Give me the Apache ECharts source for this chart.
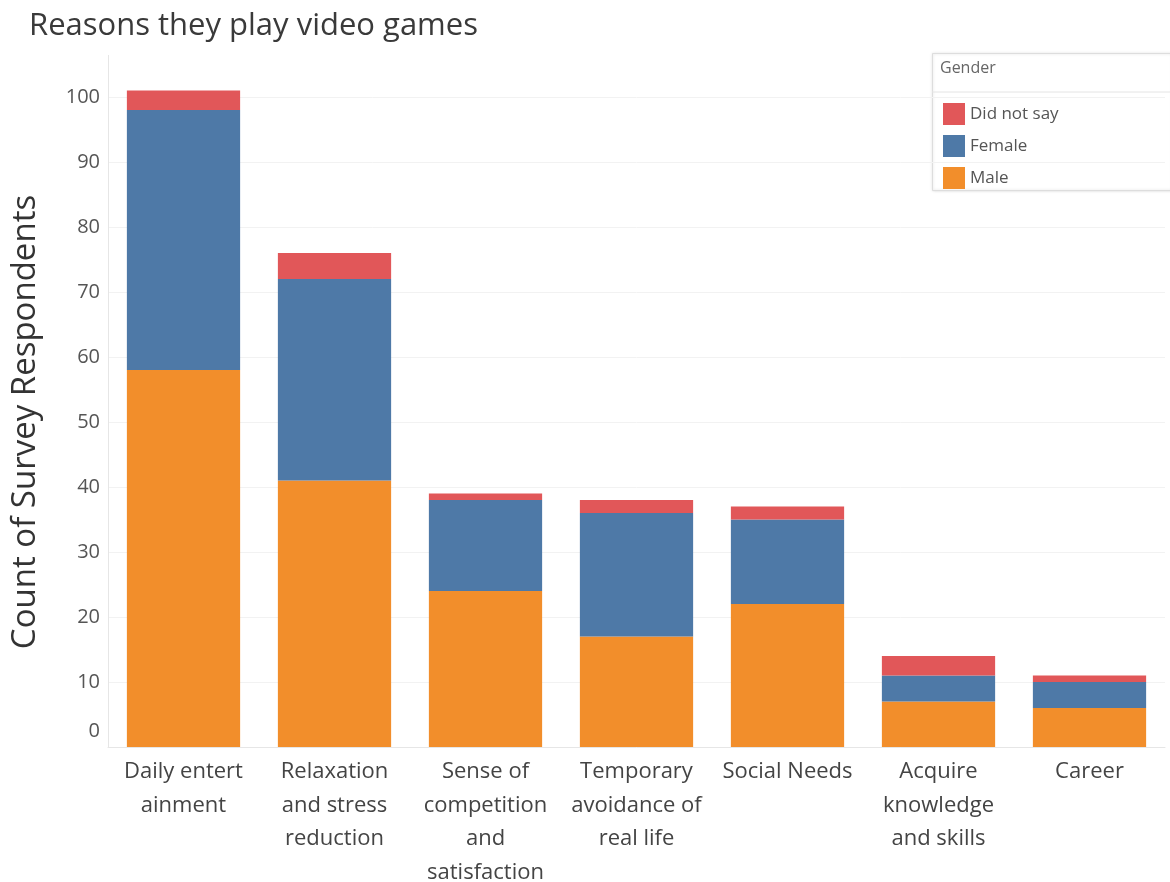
<!DOCTYPE html>
<html>
<head>
<meta charset="utf-8">
<script src="https://cdn.jsdelivr.net/npm/echarts@6/dist/echarts.min.js"></script>
<style>
  html, body { margin: 0; padding: 0; background: #fff; }
  #chart { width: 1170px; height: 882px; }
</style>
</head>
<body>
<div id="chart"></div>
<script>
// Reasons for playing, one stacked bar per reason
const categories = [
  'Daily entert\nainment',
  'Relaxation\nand stress\nreduction',
  'Sense of\ncompetition\nand\nsatisfaction',
  'Temporary\navoidance of\nreal life',
  'Social Needs',
  'Acquire\nknowledge\nand skills',
  'Career'
];
const male      = [58, 41, 24, 17, 22, 7, 6];
const female    = [40, 31, 14, 19, 13, 4, 4];
const didNotSay = [3, 4, 1, 2, 2, 3, 1];
const legendOrder = ['Did not say', 'Female', 'Male'];

const FONT = 'Open Sans';
const chart = echarts.init(document.getElementById('chart'), null, { renderer: 'canvas' });

const barSeries = (name, data, color) => ({
  name, type: 'bar', stack: 'total', data,
  barWidth: '75%',
  clip: false,
  itemStyle: { color },
  emphasis: { disabled: true }
});

chart.setOption({
  animation: false,
  textStyle: { fontFamily: FONT },
  title: {
    text: 'Reasons they play video games',
    left: 24, top: 6,
    textStyle: { fontFamily: FONT, fontSize: 31, fontWeight: 'normal', color: '#3a3a3a' }
  },
  legend: {
    data: legendOrder,
    orient: 'vertical',
    left: 938, top: 98,
    itemWidth: 22, itemHeight: 22, itemGap: 10,
    icon: 'rect',
    textStyle: { fontFamily: FONT, fontSize: 17, color: '#555' }
  },
  graphic: [
    {
      type: 'line', z: 1,
      shape: { x1: 108.5, y1: 55, x2: 108.5, y2: 97 },
      style: { stroke: '#e6e6e6', lineWidth: 1 }
    },
    {
      type: 'rect', left: 932, top: 53, z: -1,
      shape: { width: 240, height: 137 },
      style: { fill: '#fff', stroke: '#ddd', lineWidth: 1, shadowBlur: 3, shadowColor: 'rgba(0,0,0,0.15)' }
    },
    {
      type: 'line', z: 1,
      shape: { x1: 932, y1: 92, x2: 1170, y2: 92 },
      style: { stroke: '#e4e4e4', lineWidth: 1 }
    },
    {
      type: 'text', left: 940, top: 60, z: 2,
      style: { text: 'Gender', fontFamily: FONT, fontSize: 16, fill: '#666' }
    }
  ],
  grid: { left: 108, right: 5, top: 97, bottom: 135, outerBoundsMode: 'none' },
  xAxis: {
    type: 'category',
    data: categories,
    axisLine: { show: true, lineStyle: { color: '#e6e6e6' } },
    axisTick: { show: false },
    axisLabel: {
      interval: 0, margin: 8,
      fontFamily: FONT, fontSize: 22, color: '#444', lineHeight: 33.5
    }
  },
  yAxis: {
    type: 'value',
    min: 0, max: 100, interval: 10,
    name: 'Count of Survey Respondents',
    nameLocation: 'middle',
    nameGap: 66,
    nameTextStyle: { fontFamily: FONT, fontSize: 33, color: '#333' },
    axisLine: { show: true, lineStyle: { color: '#e6e6e6' } },
    axisTick: { show: false },
    splitLine: { lineStyle: { color: '#f2f2f2' } },
    axisLabel: {
      margin: 8,
      fontFamily: FONT, fontSize: 20, color: '#555',
      formatter: v => v === 0 ? '{z|0}' : String(v),
      rich: { z: { fontFamily: FONT, fontSize: 20, color: '#555', padding: [0, 0, 32, 0] } }
    }
  },
  series: [
    barSeries('Male', male, '#f28e2b'),
    barSeries('Female', female, '#4e79a7'),
    barSeries('Did not say', didNotSay, '#e15759')
  ]
});
</script>
</body>
</html>
